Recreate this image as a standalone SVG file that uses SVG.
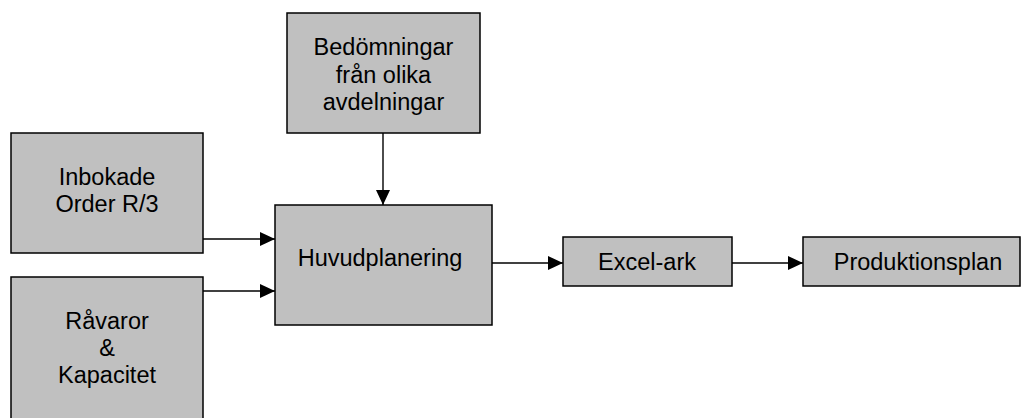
<svg xmlns="http://www.w3.org/2000/svg" width="1021" height="418" viewBox="0 0 1021 418">
<style>
.box{fill:#c0c0c0;stroke:#000;stroke-width:1.5}
.t{font-family:"Liberation Sans",Arial,sans-serif;font-size:23.5px;fill:#000;text-anchor:middle}
.c{stroke:#000;stroke-width:1.4;fill:none;marker-end:url(#ah)}
</style>
<defs>
<marker id="ah" markerUnits="userSpaceOnUse" markerWidth="15" markerHeight="14" refX="15" refY="7" orient="auto">
<path d="M0,0 L15,7 L0,14 Z" fill="#000"/>
</marker>
</defs>
<rect width="1021" height="418" fill="#fff"/>
<g id="connectors">
<line class="c" x1="383" y1="133" x2="383" y2="205"/>
<line class="c" x1="203" y1="239" x2="275" y2="239"/>
<line class="c" x1="203" y1="291" x2="275" y2="291"/>
<line class="c" x1="492" y1="263" x2="563" y2="263"/>
<line class="c" x1="732" y1="263" x2="803" y2="263"/>
</g>
<g id="bedomningar">
<rect class="box" x="287" y="13" width="193" height="120"/>
<text class="t" x="383.5" y="55">Bedömningar</text>
<text class="t" x="383.5" y="82.5">från olika</text>
<text class="t" x="383.5" y="110">avdelningar</text>
</g>
<g id="inbokade">
<rect class="box" x="11" y="133" width="192" height="120"/>
<text class="t" x="107" y="185">Inbokade</text>
<text class="t" x="107" y="212">Order R/3</text>
</g>
<g id="ravaror">
<rect class="box" x="11" y="277" width="192" height="150"/>
<text class="t" x="107" y="329">Råvaror</text>
<text class="t" x="107" y="356">&amp;</text>
<text class="t" x="107" y="383">Kapacitet</text>
</g>
<g id="huvudplanering">
<rect class="box" x="275" y="205" width="217" height="120"/>
<text class="t" x="380" y="266">Huvudplanering</text>
</g>
<g id="excel">
<rect class="box" x="563" y="237" width="169" height="49"/>
<text class="t" x="647" y="270">Excel-ark</text>
</g>
<g id="produktionsplan">
<rect class="box" x="803" y="237" width="217" height="49"/>
<text class="t" x="918" y="270">Produktionsplan</text>
</g>
</svg>
